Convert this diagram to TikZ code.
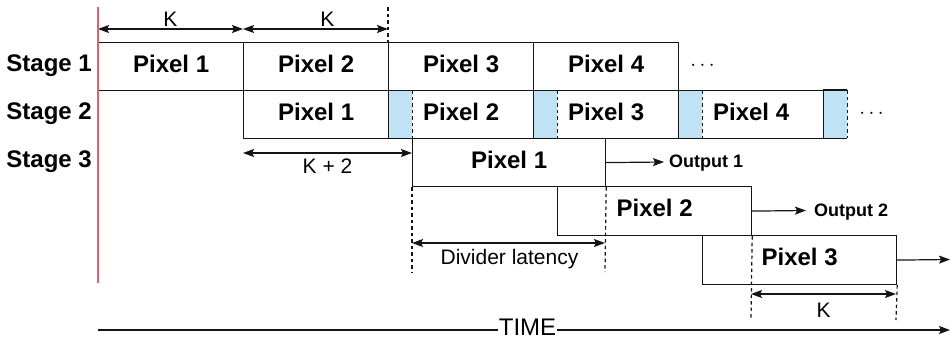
\documentclass[tikz,border=0pt]{standalone}
\usepackage{fontspec}
\setmainfont{Liberation Sans}
\usetikzlibrary{arrows.meta}
\definecolor{edge}{HTML}{141414}
\definecolor{stall}{HTML}{BFE2F4}
\definecolor{origin}{HTML}{E0606E}
\tikzset{
  bigbold/.style={font=\fontsize{24}{28}\selectfont\bfseries},
  plain/.style={font=\fontsize{21}{25}\selectfont},
  cellbox/.style={draw=edge, line width=1.2pt, rectangle, inner sep=0pt,
    anchor=north west, bigbold, text height=17.3pt, text depth=6.2pt},
  stallbox/.style={fill=stall, rectangle, inner sep=0pt, anchor=north west,
    minimum width=24pt, minimum height=48pt},
  guide/.style={draw=edge, line width=1.2pt, dash pattern=on 3.5pt off 3pt},
  span/.style={draw=edge, line width=1.2pt, <->},
  flow/.style={draw=edge, line width=1.2pt, ->},
  stagelbl/.style={bigbold, inner sep=0pt, anchor=base east},
  outlbl/.style={font=\fontsize{18}{22}\selectfont\bfseries, inner sep=0pt, anchor=base west},
}
\begin{document}
\begin{tikzpicture}[x=1pt, y=-1pt, >={Stealth[length=11pt,width=8pt,inset=2pt]}]
\useasboundingbox (0,0) rectangle (951,340);

% stage labels
\node[stagelbl] (st1lbl) at (92,71.5) {Stage 1};
\node[stagelbl] (st2lbl) at (92,119.5) {Stage 2};
\node[stagelbl] (st3lbl) at (92,167.5) {Stage 3};

% stage 1 row
\node[cellbox, minimum width=145pt, minimum height=48pt] (s1p1) at (98,42) {Pixel 1};
\node[cellbox, minimum width=145pt, minimum height=48pt] (s1p2) at (243,42) {Pixel 2};
\node[cellbox, minimum width=145pt, minimum height=48pt] (s1p3) at (388,42) {Pixel 3};
\node[cellbox, minimum width=145pt, minimum height=48pt] (s1p4) at (533,42) {Pixel 4};
\node[anchor=base, inner sep=0pt] (dots1) at (702.5,70) {\fontsize{20}{24}\selectfont$\cdots$};

% stage 2 row: stall slots first, then the cells on top
\node[stallbox] (sl1) at (388,90) {};
\node[stallbox] (sl2) at (533,90) {};
\node[stallbox] (sl3) at (678,90) {};
\node[stallbox] (sl4) at (823,90) {};
\node[cellbox, minimum width=145pt, minimum height=48pt] (s2p1) at (243,90) {Pixel 1};
\node[cellbox, minimum width=145pt, minimum height=48pt] (s2p2) at (388,90) {Pixel 2};
\node[cellbox, minimum width=145pt, minimum height=48pt] (s2p3) at (533,90) {Pixel 3};
\node[cellbox, minimum width=145pt, minimum height=48pt] (s2p4) at (678,90) {Pixel 4};
\draw[draw=edge, line width=1.2pt] (sl4.north east) -- (sl4.north west) (sl4.south west) -- (sl4.south east);
\draw[guide] (sl1.north east) -- (sl1.south east);
\draw[guide] (sl2.north east) -- (sl2.south east);
\draw[guide] (sl3.north east) -- (sl3.south east);
\draw[guide] (sl4.north east) -- (sl4.south east);
\node[anchor=base, inner sep=0pt] (dots2) at (871.5,118) {\fontsize{20}{24}\selectfont$\cdots$};

% stage 3 (divider) boxes
\node[cellbox, minimum width=193pt, minimum height=48pt] (s3p1) at (412,138) {Pixel 1};
\node[cellbox, minimum width=194pt, minimum height=49pt] (s3p2) at (557,186) {Pixel 2};
\node[cellbox, minimum width=194pt, minimum height=49pt] (s3p3) at (702,235) {Pixel 3};

% outputs
\coordinate (o1) at (664,162);
\coordinate (o2) at (806,210.5);
\coordinate (o3) at (950,259.5);
\draw[flow] (s3p1.east) -- (o1);
\draw[flow] (s3p2.east) -- (o2);
\draw[flow] (s3p3.east) -- (o3);
\node[outlbl] (out1) at (669,167.5) {Output 1};
\node[outlbl] (out2) at (814,216) {Output 2};

% guide lines
\coordinate (g0a) at (388,7);
\coordinate (g1b) at (412,272);
\coordinate (g2b) at (605,272);
\coordinate (g3b) at (751,320);
\coordinate (g4b) at (896,320);
\draw[guide] (g0a) -- (s1p3.north west);
\draw[guide] (s3p1.south west) -- (g1b);
\draw[guide] (s3p1.south east) -- (g2b);
\draw[guide] (s3p2.south east) -- (g3b);
\draw[guide] (s3p3.south east) -- (g4b);

% dimension arrows
\coordinate (ka) at (98,29);
\coordinate (kb) at (243,29);
\coordinate (kc) at (388,29);
\draw[span] (ka) -- (kb);
\draw[span] (kb) -- (kc);
\node[plain, anchor=base, inner sep=0pt] (klbl1) at (170.5,26) {K};
\node[plain, anchor=base, inner sep=0pt] (klbl2) at (327.5,26) {K};

\coordinate (k2a) at (243,153);
\coordinate (k2b) at (412,153);
\draw[span] (k2a) -- (k2b);
\node[plain, anchor=base, inner sep=0pt] (k2lbl) at (327.5,173) {K + 2};

\coordinate (dla) at (412,243);
\coordinate (dlb) at (605,243);
\draw[span] (dla) -- (dlb);
\node[plain, anchor=base, inner sep=0pt] (dllbl) at (509.5,264) {Divider latency};

\coordinate (k3a) at (751,294);
\coordinate (k3b) at (896,294);
\draw[span] (k3a) -- (k3b);
\node[plain, anchor=base, inner sep=0pt] (k3lbl) at (823.5,317) {K};

% start of time
\coordinate (t0) at (98,7);
\coordinate (t1) at (98,283);
\draw[draw=origin, line width=2pt] (t0) -- (t1);

% time axis
\coordinate (ta) at (98,330);
\coordinate (tb) at (950,330);
\draw[flow] (ta) -- (tb);
\node[font=\fontsize{24}{28}\selectfont, fill=white, inner sep=0.8pt, anchor=base] (time) at (527.5,335) {TIME};
\end{tikzpicture}
\end{document}
